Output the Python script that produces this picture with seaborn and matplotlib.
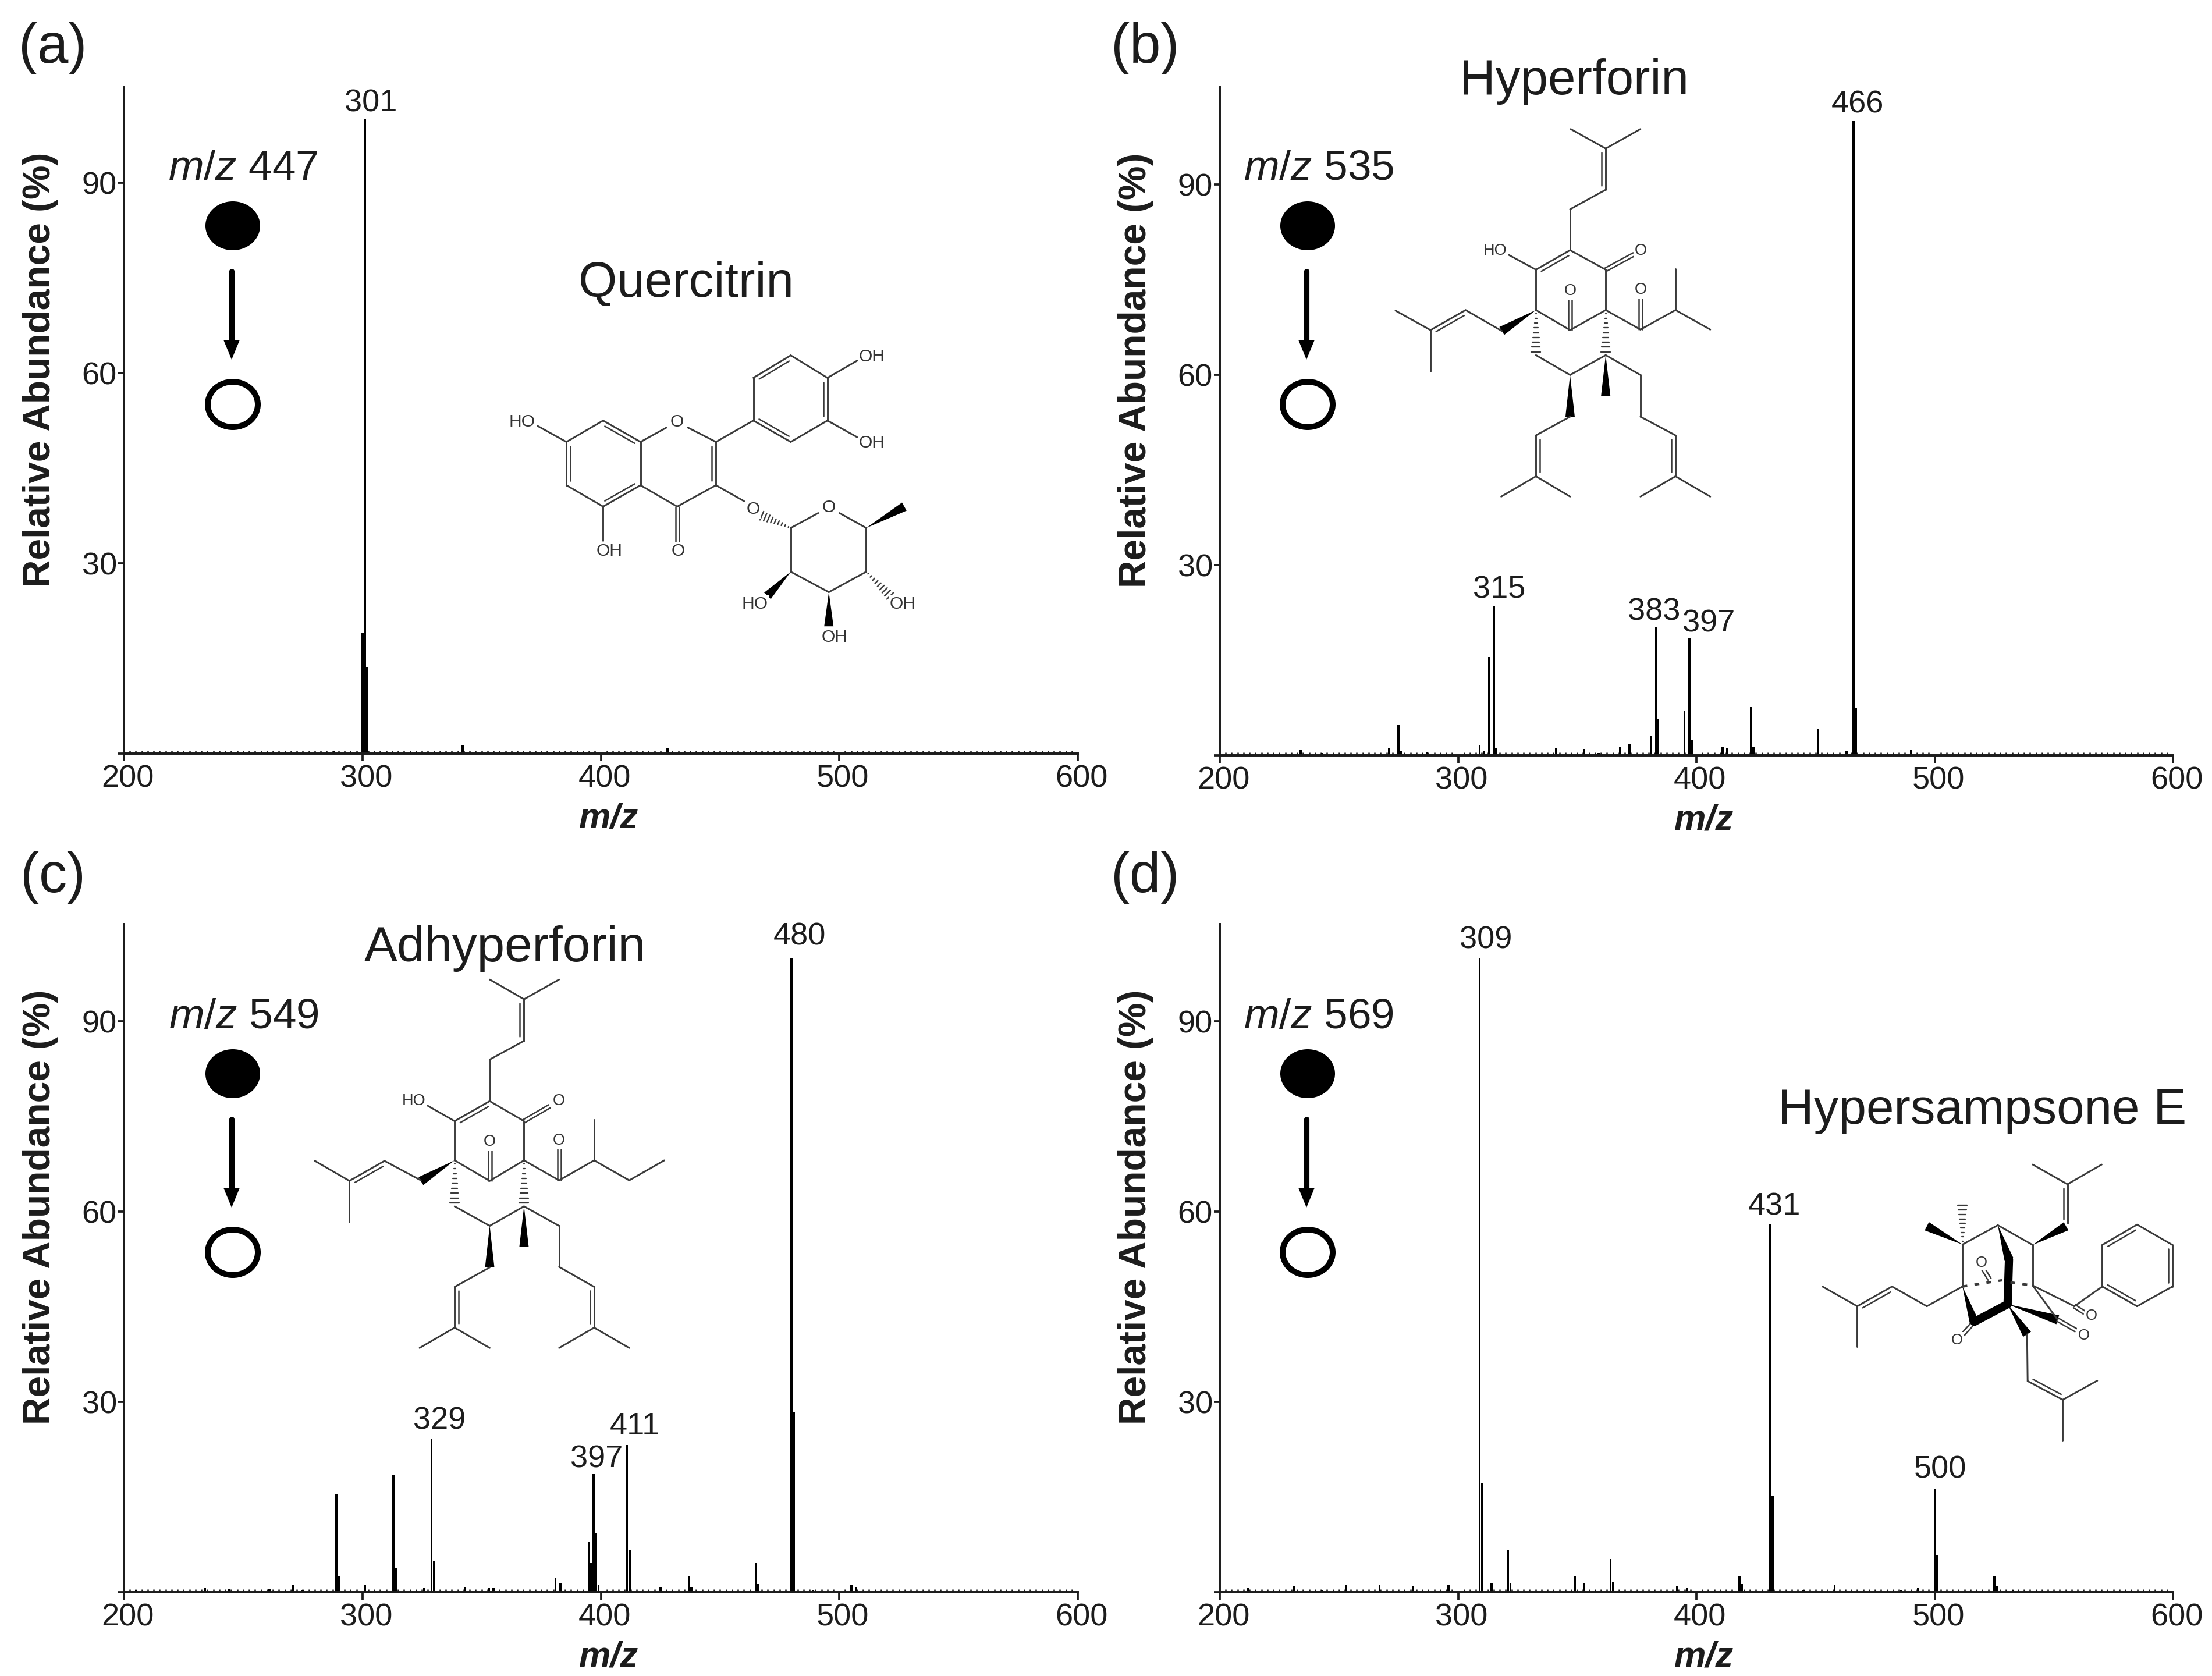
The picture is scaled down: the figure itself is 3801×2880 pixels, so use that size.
"""
plot.py — MS/MS spectra of four compounds with their structures.
"""

import matplotlib.pyplot as plt
import numpy as np
import seaborn as sns
from matplotlib.patches import Ellipse
from matplotlib.ticker import MultipleLocator
from matplotlib.transforms import ScaledTranslation

sns.set_theme(style="ticks")
plt.rcParams["font.family"] = ["Liberation Sans", "DejaVu Sans"]
plt.rcParams["mathtext.fontset"] = "custom"
plt.rcParams["mathtext.it"] = "Liberation Sans:italic"
plt.rcParams["mathtext.rm"] = "Liberation Sans"

W, H = 3801, 2880
INK = "#1c1c1c"

# ─────────────────────────────────────────────────────────────────────────────
# Spectra
# ─────────────────────────────────────────────────────────────────────────────
mz_a = [288, 300, 301, 302, 315, 322, 342, 373, 428]
abund_a = [0.5, 19, 100, 13.7, 0.3, 0.3, 1.4, 0.3, 0.8]

mz_b = [234, 243, 271, 275, 276, 287, 309, 311, 313, 315, 316, 341, 353, 359,
        368, 372, 381, 383, 384, 395, 397, 398, 411, 413, 423, 424, 451, 463,
        466, 467, 490]
abund_b = [0.9, 0.4, 1.1, 4.8, 0.6, 0.5, 1.6, 0.6, 15.5, 23.5, 1.1, 1.1, 1.0,
           0.4, 1.4, 1.8, 3.0, 20.3, 5.7, 7.0, 18.4, 2.5, 1.3, 1.2, 7.6, 1.3,
           4.1, 0.6, 100, 7.5, 0.9]

mz_c = [205, 234, 244, 261, 271, 275, 289, 290, 301, 313, 314, 326, 329, 330,
        343, 353, 355, 381, 383, 395, 396, 397, 398, 399, 411, 412, 425, 437,
        438, 465, 466, 480, 481, 489, 505, 507]
abund_c = [0.4, 0.7, 0.5, 0.5, 1.2, 0.4, 15.4, 2.5, 1.1, 18.5, 3.8, 0.7, 24.1,
           5.0, 0.8, 0.7, 0.6, 2.2, 1.5, 7.9, 4.7, 18.6, 9.4, 1.1, 23.2, 6.6,
           0.8, 2.5, 0.8, 4.7, 1.3, 100, 28.4, 0.4, 1.1, 0.8]

mz_d = [212, 231, 243, 253, 267, 281, 296, 309, 310, 314, 321, 322, 349, 353,
        364, 365, 392, 396, 418, 419, 431, 432, 445, 458, 486, 493, 500, 501,
        525, 526, 533]
abund_d = [0.7, 0.9, 0.4, 1.2, 1.1, 0.9, 1.2, 100, 17.2, 1.5, 6.7, 1.5, 2.5,
           1.4, 5.2, 1.6, 0.9, 0.7, 2.6, 1.3, 58, 15.1, 0.4, 1.1, 0.4, 0.6,
           16.3, 5.9, 2.5, 1.0, 0.3]

x_ticks = [200, 300, 400, 500, 600]
y_ticks = [0, 30, 60, 90]
y_tick_labels = ["", "30", "60", "90"]
panel_tags = ["(a)", "(b)", "(c)", "(d)"]
precursors = ["447", "535", "549", "569"]
compounds = ["Quercitrin", "Hyperforin", "Adhyperforin", "Hypersampsone E"]

# axes boxes in pixels: left, right, baseline, top
boxes = [(213, 1852, 1295, 150), (2096, 3734, 1298, 150),
         (213, 1852, 2736, 1588), (2096, 3734, 2736, 1588)]

# peak labels in pixels
peak_labels = [
    ("301", 637, 177), ("466", 3192, 180), ("315", 2576, 1013),
    ("383", 2842, 1051), ("397", 2936, 1072), ("329", 755, 2441),
    ("397", 1025, 2507), ("411", 1091, 2451), ("480", 1374, 1610),
    ("309", 2553, 1615), ("431", 3049, 2073), ("500", 3334, 2526),
]

# ─────────────────────────────────────────────────────────────────────────────
# Structures, in coordinates of a crop: origin and scale map them to pixels
# ─────────────────────────────────────────────────────────────────────────────
quercitrin = dict(
    origin=(0, 0), scale=(1 / 0.825, 1 / 1.089), fontsize=7.2,
    bonds=[(855, 787, 908, 827), (908, 827, 908, 908), (908, 908, 855, 948),
           (855, 948, 803, 908), (803, 908, 803, 827), (803, 827, 855, 787),
           (908, 827, 945, 800), (975, 800, 1015, 827), (1015, 827, 1015, 908),
           (1015, 908, 960, 948), (960, 948, 908, 908),
           (1068, 707, 1121, 665), (1121, 665, 1173, 707), (1173, 707, 1173, 787),
           (1173, 787, 1121, 827), (1121, 827, 1068, 787), (1068, 787, 1068, 707),
           (1015, 827, 1068, 787), (1173, 707, 1215, 675), (1173, 787, 1215, 818),
           (803, 827, 762, 797), (855, 948, 855, 1012), (1015, 908, 1055, 938),
           (1121, 988, 1160, 960), (1190, 960, 1228, 988), (1228, 988, 1228, 1070),
           (1228, 1070, 1175, 1108), (1175, 1108, 1121, 1070), (1121, 1070, 1121, 988)],
    doubles=[(855, 787, 908, 827, 1), (803, 827, 803, 908, -1), (855, 948, 908, 908, -1),
             (1015, 827, 1015, 908, 1), (1068, 707, 1121, 665, 1),
             (1173, 707, 1173, 787, 1), (1068, 787, 1121, 827, -1),
             (960, 948, 960, 1015, 0)],
    wedges=[(1228, 988, 1282, 948), (1121, 1070, 1088, 1115), (1175, 1108, 1175, 1172)],
    hashes=[(1121, 988, 1080, 965), (1228, 1070, 1262, 1115)],
    labels=[("OH", 1236, 668), ("OH", 1236, 829), ("HO", 740, 789), ("OH", 864, 1031),
            ("O", 961, 1031), ("O", 960, 790), ("O", 1068, 953), ("O", 1175, 950),
            ("HO", 1070, 1130), ("OH", 1183, 1192), ("OH", 1280, 1130)],
)

hyperforin = dict(
    origin=(2300, 150), scale=(1 / 1.96, 1 / 2.09), fontsize=6.5,
    bonds=[(782, 150, 900, 220), (900, 220, 1017, 150), (900, 220, 900, 368),
           (900, 368, 780, 438), (780, 438, 780, 585), (780, 585, 665, 655),
           (665, 655, 665, 800), (780, 585, 900, 655), (900, 655, 900, 800),
           (665, 800, 780, 872), (780, 872, 900, 800), (665, 655, 570, 600),
           (900, 800, 1017, 870), (1017, 870, 1135, 800), (1135, 800, 1135, 652),
           (1135, 800, 1252, 870), (550, 875, 428, 800), (428, 800, 310, 872),
           (310, 872, 192, 802), (310, 872, 310, 1020), (665, 962, 780, 1033),
           (780, 1033, 900, 962), (900, 962, 1017, 1033), (1017, 1033, 1017, 1183),
           (1017, 1183, 1135, 1250), (1135, 1250, 1135, 1397), (1135, 1397, 1017, 1470),
           (1135, 1397, 1252, 1470), (780, 1183, 665, 1250), (665, 1250, 665, 1397),
           (665, 1397, 548, 1470), (665, 1397, 780, 1470)],
    doubles=[(900, 220, 900, 368, 1), (780, 585, 665, 655, -1), (428, 800, 310, 872, -1),
             (1135, 1250, 1135, 1397, 1), (665, 1250, 665, 1397, -1),
             (900, 655, 995, 600, 0), (780, 872, 780, 760, 0), (1017, 870, 1017, 755, 0)],
    wedges=[(665, 800, 550, 875), (900, 962, 900, 1108), (780, 1033, 780, 1183)],
    hashes=[(665, 800, 665, 950), (900, 800, 900, 950)],
    labels=[("HO", 527, 587), ("O", 1017, 587), ("O", 780, 732), ("O", 1017, 728)],
)

adhyperforin = dict(
    origin=(500, 1660), scale=(1 / 2.24, 1 / 2.24), fontsize=6.5,
    bonds=[(765, 52, 897, 128), (1032, 52, 897, 128), (897, 128, 897, 288),
           (897, 288, 765, 360), (765, 360, 765, 520), (765, 520, 630, 597),
           (630, 597, 630, 748), (765, 520, 897, 597), (897, 597, 897, 748),
           (630, 748, 765, 827), (765, 827, 897, 748), (630, 597, 525, 537),
           (897, 748, 1032, 825), (1032, 825, 1167, 748), (1167, 748, 1167, 592),
           (1167, 748, 1302, 825), (1302, 825, 1437, 748), (500, 825, 360, 750),
           (360, 750, 225, 827), (225, 827, 92, 750), (225, 827, 225, 985),
           (630, 925, 765, 1000), (765, 1000, 897, 925), (897, 925, 1032, 1000),
           (1032, 1000, 1032, 1158), (1032, 1158, 1167, 1235), (1167, 1235, 1167, 1392),
           (1167, 1392, 1032, 1470), (1167, 1392, 1302, 1470), (765, 1160, 630, 1235),
           (630, 1235, 630, 1392), (630, 1392, 495, 1470), (630, 1392, 765, 1470)],
    doubles=[(897, 128, 897, 288, 1), (765, 520, 630, 597, -1), (360, 750, 225, 827, -1),
             (1167, 1235, 1167, 1392, 1), (630, 1235, 630, 1392, -1),
             (897, 597, 995, 540, 0), (765, 827, 765, 710, 0), (1032, 825, 1032, 705, 0)],
    wedges=[(630, 748, 500, 828), (897, 925, 897, 1080), (765, 1000, 765, 1160)],
    hashes=[(630, 748, 630, 912), (897, 748, 897, 912)],
    labels=[("HO", 473, 520), ("O", 1032, 520), ("O", 765, 677), ("O", 1032, 672)],
)

hypersampsone = dict(
    origin=(3000, 1950), scale=(1 / 2.09, 1 / 2.8), fontsize=6.2,
    bonds=[(1030, 143, 1155, 238), (1278, 143, 1155, 238), (1155, 238, 1155, 425),
           (1030, 530, 905, 435), (905, 435, 778, 528), (778, 528, 778, 730),
           (1030, 530, 1030, 725), (778, 730, 650, 825), (650, 825, 525, 730),
           (525, 730, 400, 825), (400, 825, 275, 730), (400, 825, 400, 1020),
           (1030, 725, 1120, 890), (1030, 725, 1180, 825), (1180, 825, 1280, 730),
           (1280, 730, 1280, 530), (1280, 530, 1405, 432), (1405, 432, 1532, 530),
           (1532, 530, 1532, 730), (1532, 730, 1405, 825), (1405, 825, 1280, 730),
           (1010, 960, 1012, 1185), (1012, 1185, 1138, 1275), (1138, 1275, 1262, 1183),
           (1138, 1275, 1138, 1472)],
    doubles=[(1155, 238, 1155, 425, 1), (525, 730, 400, 825, -1), (1012, 1185, 1138, 1275, -1),
             (1280, 530, 1405, 432, 1), (1532, 530, 1532, 730, 1), (1280, 730, 1405, 825, -1),
             (875, 695, 850, 640, 0), (1180, 825, 1215, 855, 0), (1120, 890, 1185, 940, 0),
             (810, 915, 780, 960, 0)],
    wedges=[(1030, 530, 1150, 440), (778, 528, 650, 440), (905, 435, 945, 600),
            (778, 730, 820, 900), (940, 815, 1120, 890), (940, 815, 1010, 960)],
    thick=[(945, 600, 940, 815), (820, 900, 940, 815)],
    hashes=[(778, 528, 778, 340)],
    dashes=[(778, 730, 920, 700), (950, 710, 1030, 725)],
    labels=[("O", 845, 615), ("O", 1240, 872), ("O", 1213, 965), ("O", 758, 988)],
)

structures = [quercitrin, hyperforin, adhyperforin, hypersampsone]


# ─────────────────────────────────────────────────────────────────────────────
# Drawing helpers
# ─────────────────────────────────────────────────────────────────────────────
def draw_structure(ax, st):
    ox, oy = st["origin"]
    sx, sy = st["scale"]

    def px(x, y):
        return ox + x * sx, oy + y * sy

    for x1, y1, x2, y2 in st["bonds"]:
        a, b = px(x1, y1), px(x2, y2)
        ax.plot([a[0], b[0]], [a[1], b[1]], color="#3a3a3a", lw=0.7, solid_capstyle="round")

    for x1, y1, x2, y2, side in st["doubles"]:
        a, b = np.array(px(x1, y1)), np.array(px(x2, y2))
        d = b - a
        n = np.array([-d[1], d[0]]) / np.hypot(*d)
        if side == 0:
            for s in (-3, 3):
                p, q = a + n * s, b + n * s
                ax.plot([p[0], q[0]], [p[1], q[1]], color="#3a3a3a", lw=0.6)
        else:
            p, q = a + n * 7 * side + d * 0.1, b + n * 7 * side - d * 0.1
            ax.plot([p[0], q[0]], [p[1], q[1]], color="#3a3a3a", lw=0.6)

    for x1, y1, x2, y2 in st["wedges"]:
        a, b = np.array(px(x1, y1)), np.array(px(x2, y2))
        d = b - a
        n = np.array([-d[1], d[0]]) / np.hypot(*d) * 8
        tri = np.array([a, b + n, b - n])
        ax.fill(tri[:, 0], tri[:, 1], color="black", lw=0)

    for x1, y1, x2, y2 in st.get("thick", []):
        a, b = px(x1, y1), px(x2, y2)
        ax.plot([a[0], b[0]], [a[1], b[1]], color="black", lw=3.4, solid_capstyle="round")

    for x1, y1, x2, y2 in st["hashes"]:
        a, b = np.array(px(x1, y1)), np.array(px(x2, y2))
        d = b - a
        n = np.array([-d[1], d[0]]) / np.hypot(*d)
        for f in np.linspace(0.08, 1, 9):
            p, q = a + d * f + n * 8 * f, a + d * f - n * 8 * f
            ax.plot([p[0], q[0]], [p[1], q[1]], color="#3a3a3a", lw=0.55)

    for x1, y1, x2, y2 in st.get("dashes", []):
        a, b = px(x1, y1), px(x2, y2)
        ax.plot([a[0], b[0]], [a[1], b[1]], color="#3a3a3a", lw=1.0, ls=(0, (2, 3)))

    for text, x, y in st["labels"]:
        tx, ty = px(x, y)
        ax.text(tx, ty, text, fontsize=st["fontsize"], color="#333333", ha="center", va="center",
                bbox=dict(facecolor="white", edgecolor="none", pad=0.4))


def draw_transition(ax, cx, top_y, precursor, label_x):
    ax.text(label_x, top_y - 97, rf"$\mathit{{m/z}}$ {precursor}", fontsize=17.5, color=INK,
            ha="center", va="center")
    ax.add_patch(Ellipse((cx, top_y), 94, 84, facecolor="black", edgecolor="black", lw=0))
    ax.plot([cx - 2, cx - 2], [top_y + 78, top_y + 200], color="black", lw=2.2)
    ax.fill([cx - 16, cx + 12, cx - 2], [top_y + 196, top_y + 196, top_y + 230], color="black", lw=0)
    ax.add_patch(Ellipse((cx, top_y + 307), 86, 78, facecolor="white", edgecolor="black", lw=2.4))


# ─────────────────────────────────────────────────────────────────────────────
# Figure
# ─────────────────────────────────────────────────────────────────────────────
fig = plt.figure(figsize=(W / 300, H / 300), dpi=300, facecolor="white")

spectra = [(mz_a, abund_a), (mz_b, abund_b), (mz_c, abund_c), (mz_d, abund_d)]

for (mz, abund), (left, right, base, top) in zip(spectra, boxes):
    ax = fig.add_axes([left / W, 1 - base / H, (right - left) / W, (base - top) / H])
    sns.barplot(x=mz, y=abund, native_scale=True, width=0.9, color="black", saturation=1,
                linewidth=0, errorbar=None, ax=ax)
    ax.set_xlim(200, 600)
    ax.set_ylim(0, (base - top) / 10.9)
    ax.set_xticks(x_ticks)
    ax.set_xticklabels([str(t) for t in x_ticks])
    ax.set_yticks(y_ticks)
    ax.set_yticklabels(y_tick_labels)
    ax.xaxis.set_minor_locator(MultipleLocator(2.5))
    ax.tick_params(axis="x", which="major", length=3, width=0.9, pad=1.5, labelsize=13, colors=INK)
    ax.tick_params(axis="x", which="minor", direction="in", length=1.2, width=0.6, color=INK)
    ax.tick_params(axis="y", which="major", length=2.4, width=0.9, pad=0.5, labelsize=13, colors=INK)
    ax.tick_params(axis="both", labelcolor=INK)
    nudge = ScaledTranslation(6 / 300, 0, fig.dpi_scale_trans)
    for label in ax.get_xticklabels():
        label.set_transform(label.get_transform() + nudge)
    for side in ("left", "bottom"):
        ax.spines[side].set_linewidth(0.95)
        ax.spines[side].set_color(INK)
    sns.despine(ax=ax)
    ax.set_xlabel("m/z", fontsize=14.7, fontweight="bold", style="italic", color=INK, va="center")
    ax.xaxis.set_label_coords(0.508, -0.0975)
    ax.set_ylabel("Relative Abundance (%)", fontsize=15.8, fontweight="bold", color=INK, va="center")
    ax.yaxis.set_label_coords(-0.088, 0.576)

# overlay in pixel coordinates for everything that is not on the data scales
ov = fig.add_axes([0, 0, 1, 1], zorder=5)
ov.set_xlim(0, W)
ov.set_ylim(H, 0)
ov.axis("off")
ov.patch.set_alpha(0)

tag_pos = [(91, 83), (1968, 83), (91, 1508), (1968, 1508)]
for tag, (x, y) in zip(panel_tags, tag_pos):
    ov.text(x, y, tag, fontsize=23, color=INK, ha="center", va="center")

name_pos = [(1179, 488), (2705, 140), (868, 1630), (3406, 1909)]
for name, (x, y) in zip(compounds, name_pos):
    ov.text(x, y, name, fontsize=20.5, color=INK, ha="center", va="center")

for text, x, y in peak_labels:
    ov.text(x, y, text, fontsize=13, color=INK, ha="center", va="center")

transition_pos = [(400, 388, 418), (2247, 388, 2266), (400, 1845, 419), (2247, 1845, 2266)]
for precursor, (cx, top_y, label_x) in zip(precursors, transition_pos):
    draw_transition(ov, cx, top_y, precursor, label_x)

for st in structures:
    draw_structure(ov, st)

fig.savefig("out.png", dpi=300, facecolor="white")
